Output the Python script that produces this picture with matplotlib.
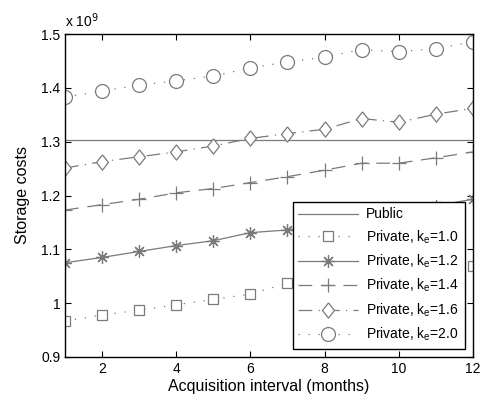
import matplotlib
matplotlib.use("Agg")
import matplotlib.pyplot as plt

plt.rcParams['font.family'] = ['Liberation Sans', 'DejaVu Sans']

months = [1, 2, 3, 4, 5, 6, 7, 8, 9, 10, 11, 12]
public = [1.303] * 12
k10 = [0.967, 0.978, 0.987, 0.997, 1.007, 1.017, 1.037, 1.043, 1.050, 1.056, 1.063, 1.069]
k12 = [1.075, 1.085, 1.096, 1.107, 1.116, 1.131, 1.136, 1.148, 1.160, 1.170, 1.181, 1.193]
k14 = [1.173, 1.183, 1.193, 1.205, 1.213, 1.224, 1.235, 1.247, 1.260, 1.260, 1.270, 1.281]
k16 = [1.251, 1.263, 1.272, 1.281, 1.292, 1.306, 1.315, 1.323, 1.343, 1.336, 1.351, 1.362]
k20 = [1.383, 1.394, 1.405, 1.413, 1.422, 1.437, 1.448, 1.457, 1.471, 1.467, 1.473, 1.485]
labels = ['Public', r'Private, k$_\mathregular{e}$=1.0', r'Private, k$_\mathregular{e}$=1.2',
          r'Private, k$_\mathregular{e}$=1.4', r'Private, k$_\mathregular{e}$=1.6',
          r'Private, k$_\mathregular{e}$=2.0']
yticks = [0.9, 1.0, 1.1, 1.2, 1.3, 1.4, 1.5]
yticklabels = ['0.9', '1', '1.1', '1.2', '1.3', '1.4', '1.5']
xticks = [2, 4, 6, 8, 10, 12]

gray = '#7a7a7a'
diamond = [(0, 1), (0.78, 0), (0, -1), (-0.78, 0), (0, 1)]

fig = plt.figure(figsize=(4.83, 4.0), dpi=100)
ax = fig.add_axes([0.1346, 0.1075, 0.979 - 0.1346, 0.915 - 0.1075])

lw = 0.9
ax.plot(months, public, color=gray, lw=lw, ls='-', label=labels[0])
ax.plot(months, k10, color=gray, lw=lw, ls=(0, (1, 7)), marker='s', ms=7,
        mfc='white', mec=gray, mew=0.9, label=labels[1])
ax.plot(months, k12, color=gray, lw=lw, ls='-', marker=(8, 2, 0), ms=9,
        mec=gray, mew=0.9, label=labels[2])
ax.plot(months, k14, color=gray, lw=lw, ls=(0, (11, 7)), marker='+', ms=10,
        mec=gray, mew=0.9, label=labels[3])
ax.plot(months, k16, color=gray, lw=lw, ls=(0, (11, 5, 1, 5)), marker=diamond, ms=11,
        mfc='white', mec=gray, mew=0.9, label=labels[4])
ax.plot(months, k20, color=gray, lw=lw, ls=(0, (1, 7)), marker='o', ms=10,
        mfc='white', mec=gray, mew=0.9, label=labels[5])

ax.set_xlim(1, 12)
ax.set_ylim(0.9, 1.5)
ax.set_xticks(xticks)
ax.set_yticks(yticks)
ax.set_yticklabels(yticklabels)
ax.tick_params(direction='in', top=True, right=True, labelsize=10, length=4, width=0.8)
for s in ax.spines.values():
    s.set_linewidth(1.0)
ax.set_xlabel('Acquisition interval (months)', fontsize=11.5, labelpad=2)
ax.set_ylabel('Storage costs', fontsize=11.5, labelpad=8)
ax.text(0.0, 1.012, 'x 10$^9$', transform=ax.transAxes, fontsize=10, ha='left', va='bottom')

leg = ax.legend(loc='lower right', fontsize=10, frameon=True, fancybox=False,
                edgecolor='black', framealpha=1, handlelength=4.3, labelspacing=0.5,
                borderaxespad=0.6, handletextpad=0.6, borderpad=0.4)
leg.get_frame().set_linewidth(1.0)

fig.savefig('out.png', dpi=100)
